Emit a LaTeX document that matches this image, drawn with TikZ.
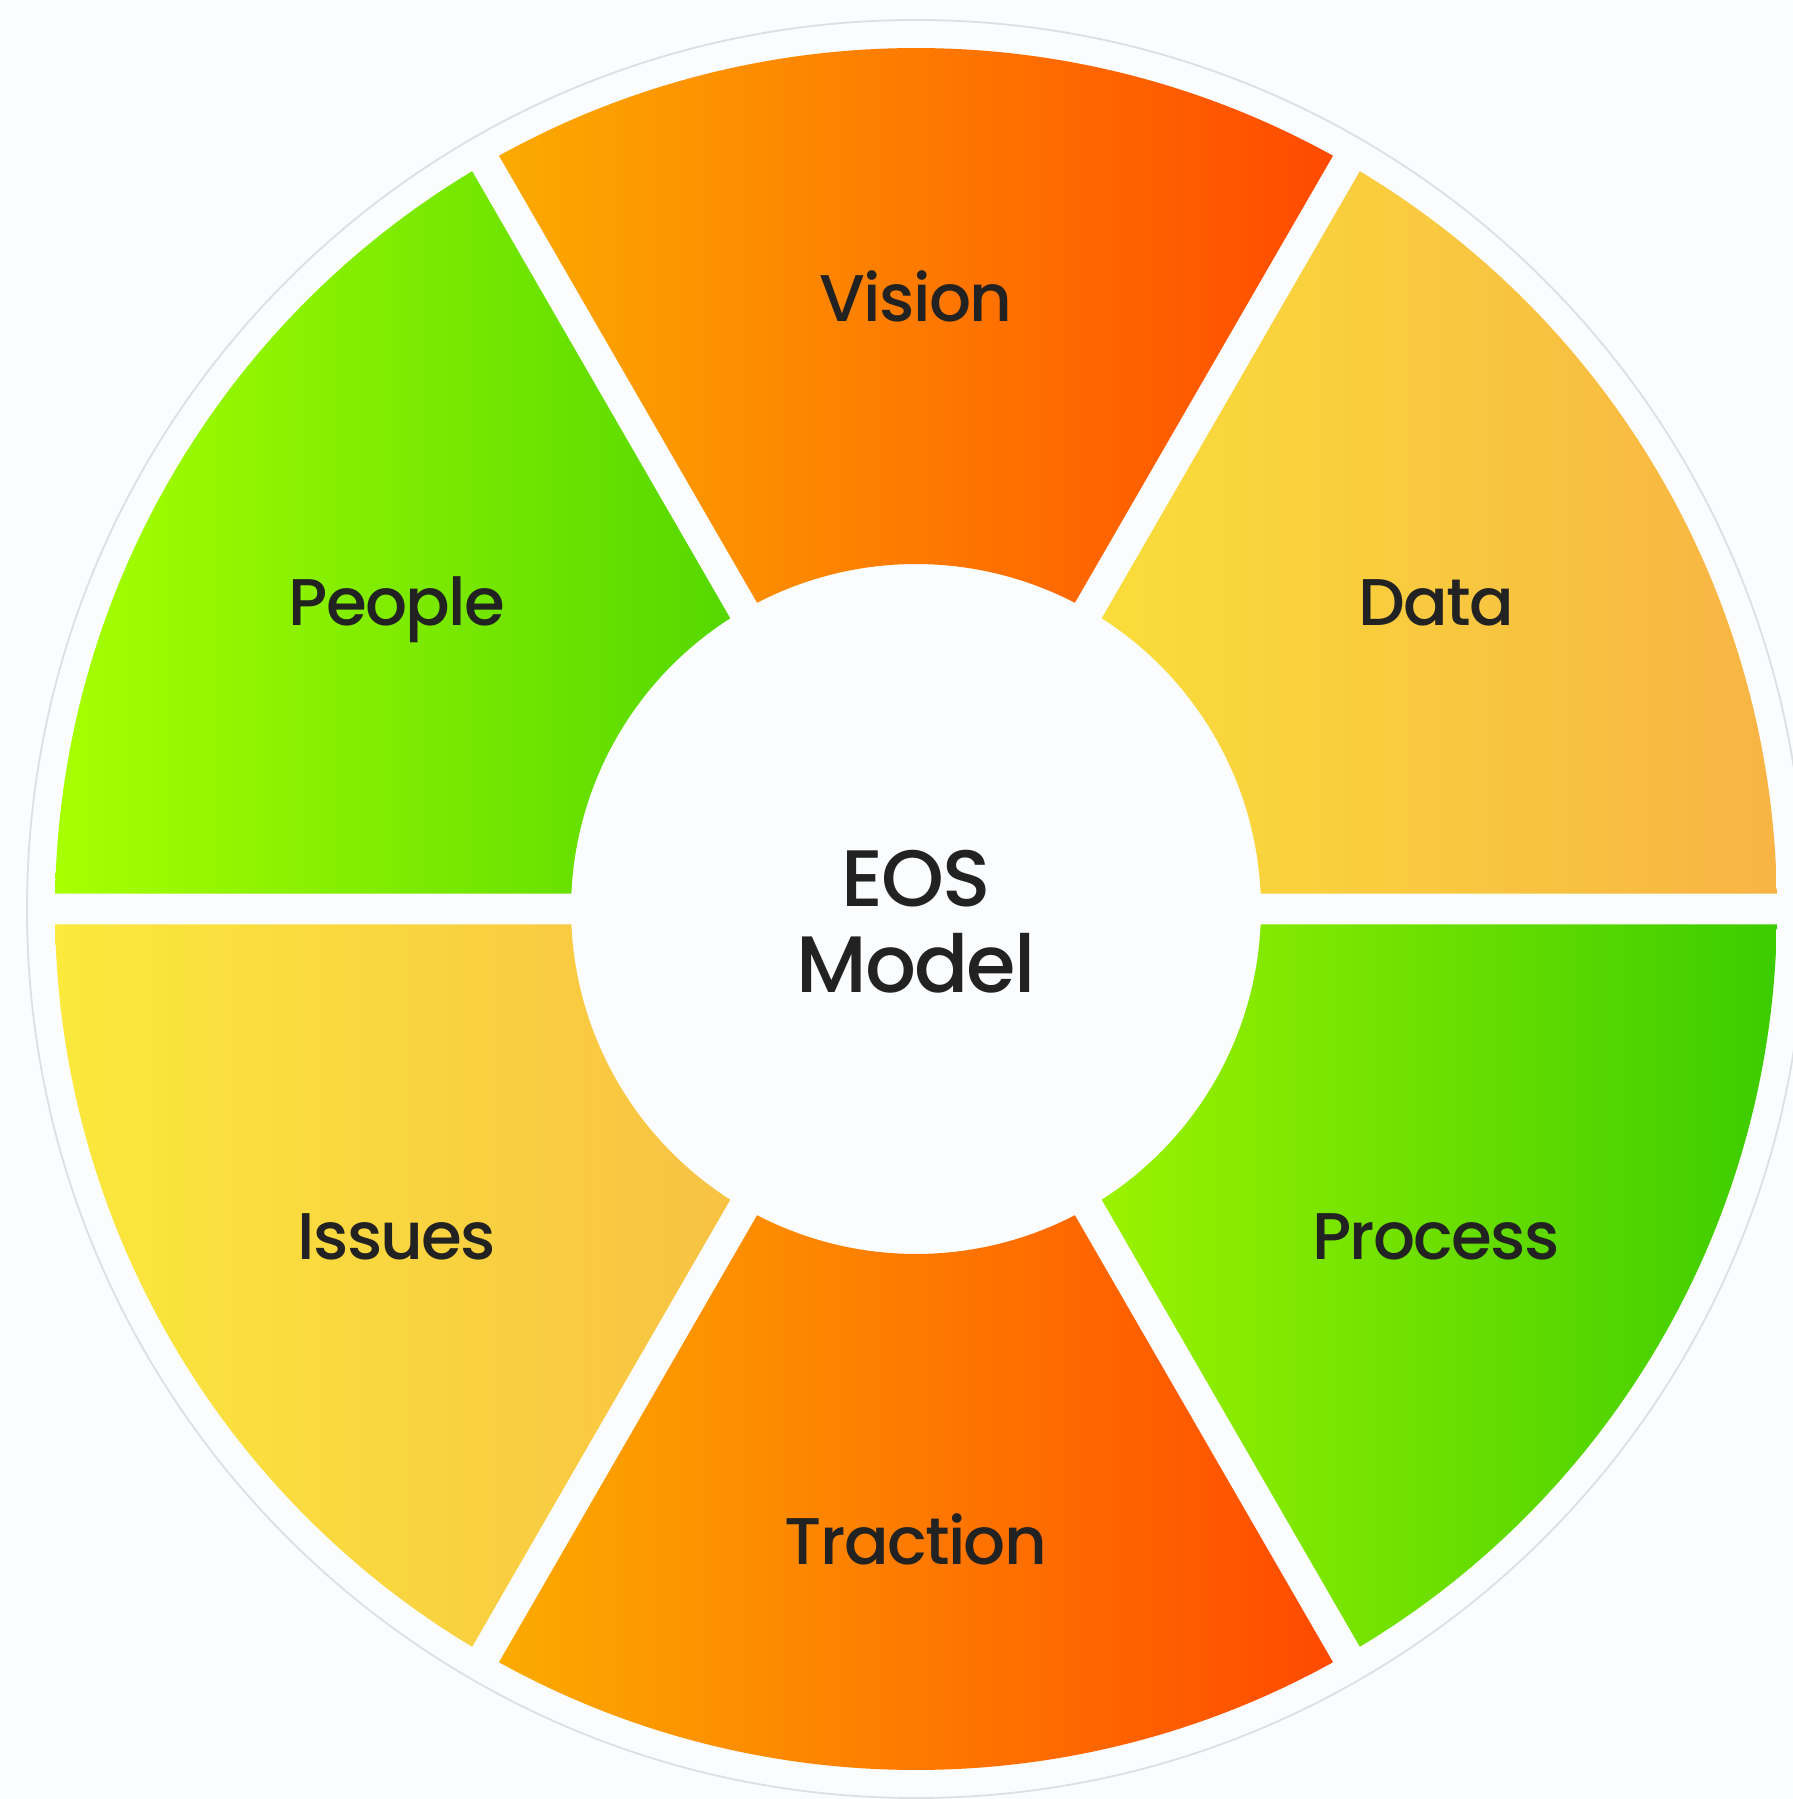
\documentclass[tikz,border=0pt]{standalone}
\usepackage{fontspec}
\setmainfont{Poppins}[UprightFont=* Medium,LetterSpace=-2.5]
\begin{document}
\definecolor{bg}{HTML}{FAFCFD}
\definecolor{ink}{HTML}{222222}
\definecolor{ringline}{HTML}{DDDFE1}
\definecolor{orangeL}{HTML}{FCAA00}
\definecolor{orangeR}{HTML}{FF4A00}
\definecolor{greenAL}{HTML}{A8FF00}
\definecolor{greenAR}{HTML}{55D800}
\definecolor{greenBL}{HTML}{9AF200}
\definecolor{greenBR}{HTML}{3CCC00}
\definecolor{yelAL}{HTML}{F9DD3A}
\definecolor{yelAR}{HTML}{F8B444}
\definecolor{yelBL}{HTML}{FBE93C}
\definecolor{yelBR}{HTML}{F8C243}
\begin{tikzpicture}[x=1pt,y=1pt,
  label/.style={text=ink,inner sep=0pt,anchor=base,font=\fontsize{66}{80}\selectfont},
  title/.style={text=ink,inner sep=0pt,anchor=base,font=\fontsize{80}{90}\selectfont}]
% canvas
\fill[bg] (-916,-890) rectangle (877,909);
\useasboundingbox (-916,-890) rectangle (877,909);
% faint outer ring
\draw[ringline,line width=1.8] (0,0) circle[radius=889];
% ring radii and gap offsets
\def\Ro{861}\def\Ri{345}
\def\dO{1.031}\def\dI{2.575}
% one segment: #1 start angle, #2 left colour, #3 right colour
\newcommand{\segment}[3]{%
  \pgfmathsetmacro{\aS}{#1+\dO}\pgfmathsetmacro{\aE}{#1+60-\dO}%
  \pgfmathsetmacro{\bS}{#1+60-\dI}\pgfmathsetmacro{\bE}{#1+\dI}%
  \shade[left color=#2,right color=#3]
    (\aS:\Ro) arc[start angle=\aS,end angle=\aE,radius=\Ro]
    -- (\bS:\Ri) arc[start angle=\bS,end angle=\bE,radius=\Ri] -- cycle;}
\segment{0}{yelAL}{yelAR}
\segment{60}{orangeL}{orangeR}
\segment{120}{greenAL}{greenAR}
\segment{180}{yelBL}{yelBR}
\segment{240}{orangeL}{orangeR}
\segment{300}{greenBL}{greenBR}
% labels
\node[label] (vision)   at (0,587)    {Vision};
\node[label] (data)     at (520,283)  {Data};
\node[label] (people)   at (-519,283) {People};
\node[label] (issues)   at (-519,-350){Issues};
\node[label] (process)  at (520,-350) {Process};
\node[label] (traction) at (0,-655)   {Traction};
\node[title] (eos)   at (0,3)   {EOS};
\node[title] (model) at (0,-83) {Model};
\end{tikzpicture}
\end{document}
